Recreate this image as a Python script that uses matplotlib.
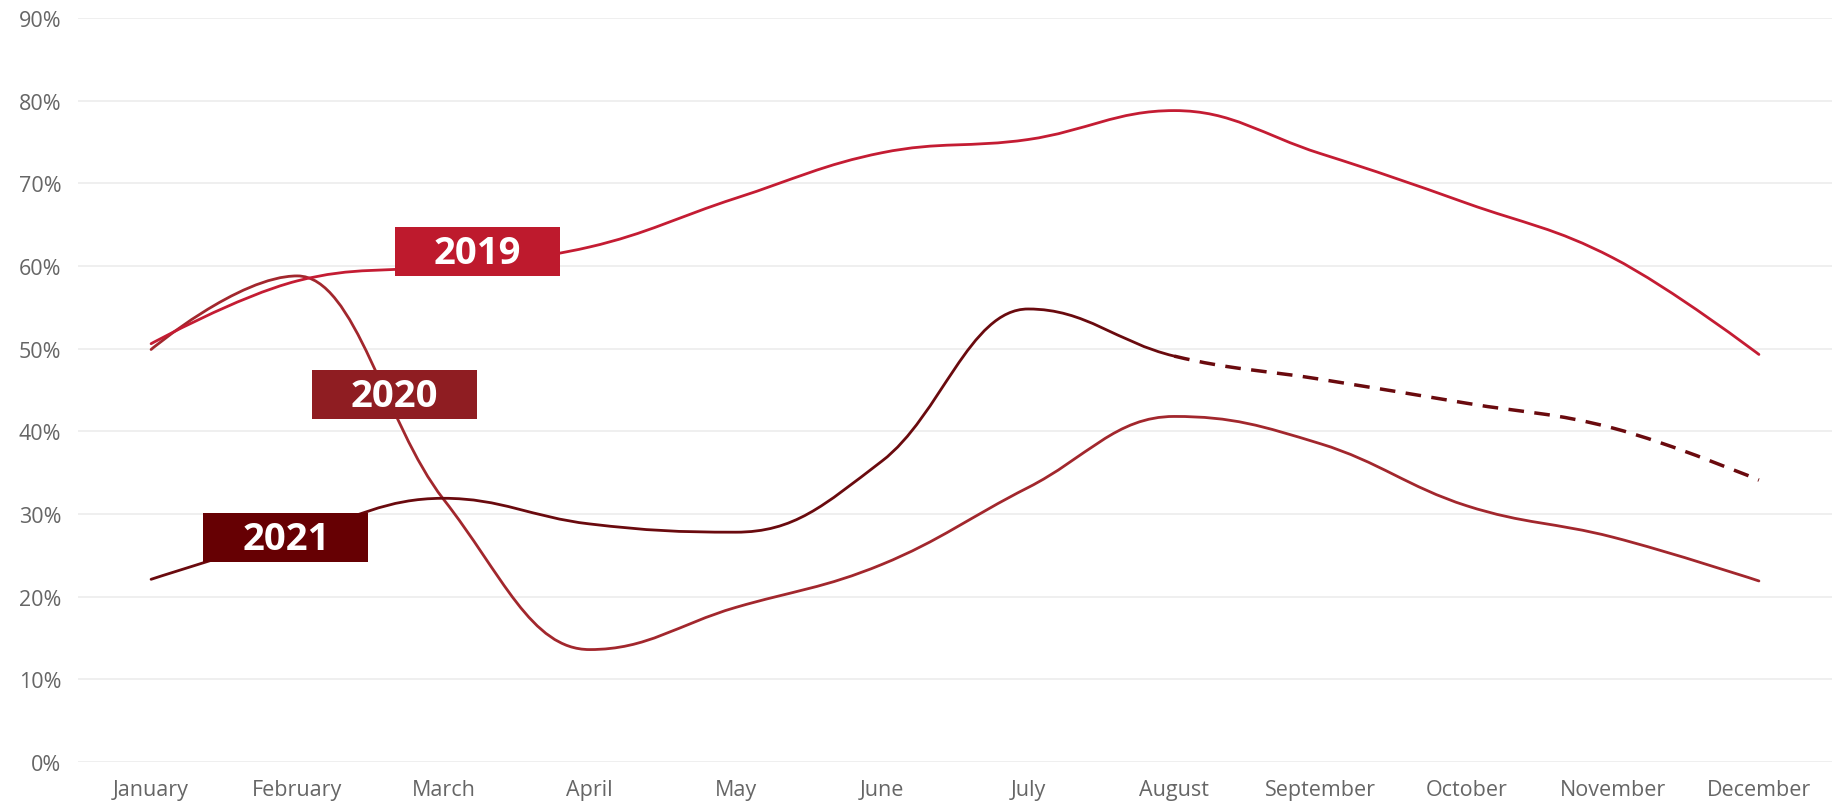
import matplotlib
matplotlib.use("Agg")
import matplotlib.pyplot as plt
from matplotlib.path import Path
from matplotlib.patches import PathPatch, Rectangle
from matplotlib.transforms import ScaledTranslation

months = ["January", "February", "March", "April", "May", "June",
          "July", "August", "September", "October", "November", "December"]

y2019 = [50.6, 58.2, 60.0, 62.3, 68.2, 73.7, 75.3, 78.8, 73.6, 67.6, 61.0, 49.3]
y2020 = [49.9, 58.8, 31.8, 13.6, 18.7, 23.9, 33.2, 41.8, 38.5, 31.0, 27.2, 21.9]
y2021 = [22.1, 27.5, 31.9, 28.8, 27.8, 36.4, 54.8, 49.1, 46.3, 43.4, 40.4, 34.1]
forecast_from = 7  # 2021 is dashed after August

yticks = [0, 10, 20, 30, 40, 50, 60, 70, 80, 90]

c2019 = "#c41c33"
c2020 = "#a2272d"
c2021 = "#6a0a0e"
box2019 = "#be1a2d"
box2020 = "#8f1d22"
box2021 = "#660003"


def spline_segments(xs, ys, smoothing=1.5):
    # same control point rule as a highcharts "spline" series
    n = len(xs)
    denom = smoothing + 1
    left = [None] * n
    right = [None] * n
    for i in range(1, n - 1):
        x, y = xs[i], ys[i]
        lx, ly = xs[i - 1], ys[i - 1]
        nx, ny = xs[i + 1], ys[i + 1]
        lcx = (smoothing * x + lx) / denom
        lcy = (smoothing * y + ly) / denom
        rcx = (smoothing * x + nx) / denom
        rcy = (smoothing * y + ny) / denom
        if rcx != lcx:
            corr = (rcy - lcy) * (rcx - x) / (rcx - lcx) + y - rcy
            lcy += corr
            rcy += corr
        if lcy > ly and lcy > y:
            lcy = max(ly, y)
            rcy = 2 * y - lcy
        elif lcy < ly and lcy < y:
            lcy = min(ly, y)
            rcy = 2 * y - lcy
        if rcy > ny and rcy > y:
            rcy = max(ny, y)
            lcy = 2 * y - rcy
        elif rcy < ny and rcy < y:
            rcy = min(ny, y)
            lcy = 2 * y - rcy
        left[i] = (lcx, lcy)
        right[i] = (rcx, rcy)
    segs = []
    for i in range(1, n):
        p0 = (xs[i - 1], ys[i - 1])
        p1 = (xs[i], ys[i])
        segs.append([p0, right[i - 1] or p0, left[i] or p1, p1])
    return segs


def seg_path(segs):
    verts = [segs[0][0]]
    codes = [Path.MOVETO]
    for s in segs:
        verts += s[1:]
        codes += [Path.CURVE4] * 3
    return Path(verts, codes)


fig = plt.figure(figsize=(18.32, 8.04), dpi=100)
ax = fig.add_axes([78 / 1832, 41 / 804, 1754 / 1832, 744 / 804])

x = list(range(len(months)))

s19 = spline_segments(x, y2019)
s20 = spline_segments(x, y2020)
s21 = spline_segments(x, y2021)

ax.add_patch(PathPatch(seg_path(s20), fill=False, edgecolor=c2020, lw=2.0,
                       capstyle="round", joinstyle="round", zorder=3))
ax.add_patch(PathPatch(seg_path(s19), fill=False, edgecolor=c2019, lw=2.0,
                       capstyle="round", joinstyle="round", zorder=3))
ax.add_patch(PathPatch(seg_path(s21[:forecast_from]), fill=False, edgecolor=c2021,
                       lw=2.0, capstyle="round", joinstyle="round", zorder=3))
ax.add_patch(PathPatch(seg_path(s21[forecast_from:]), fill=False, edgecolor=c2021,
                       lw=2.5, linestyle=(0, (4.5, 3)), zorder=3))

ax.set_xlim(-0.5, len(months) - 0.5)
ax.set_ylim(0, 90)
ax.set_xticks(x)
ax.set_xticklabels(months)
ax.set_yticks(yticks)
ax.set_yticklabels([f"{v}%" for v in yticks])
ax.tick_params(length=0, labelsize=15.5, labelcolor="#666666")
ax.tick_params(axis="y", pad=12)
ax.tick_params(axis="x", pad=12)
for lab in ax.get_xticklabels() + ax.get_yticklabels():
    lab.set_fontfamily(["Open Sans", "DejaVu Sans"])

ax.grid(axis="y", color="#ececec", lw=1.2)
ax.set_axisbelow(True)
for sp in ax.spines.values():
    sp.set_visible(False)

# year tags sitting on the lines
tags = [("2019", 2.23, 61.7, box2019),
        ("2020", 1.663, 44.5, box2020),
        ("2021", 0.923, 27.2, box2021)]
bw, bh = 1.65, 0.49  # inches
for txt, tx, ty, col in tags:
    tr = fig.dpi_scale_trans + ScaledTranslation(tx, ty, ax.transData)
    ax.add_patch(Rectangle((-bw / 2, -bh / 2), bw, bh, transform=tr,
                           facecolor=col, edgecolor="none", zorder=5, clip_on=False))
    ax.annotate(txt, (tx, ty), xytext=(0, -1), textcoords="offset points",
                ha="center", va="center", color="white", fontsize=27.5,
                fontweight="bold", family=["Open Sans", "DejaVu Sans"], zorder=6)

fig.savefig("out.png", dpi=100)
